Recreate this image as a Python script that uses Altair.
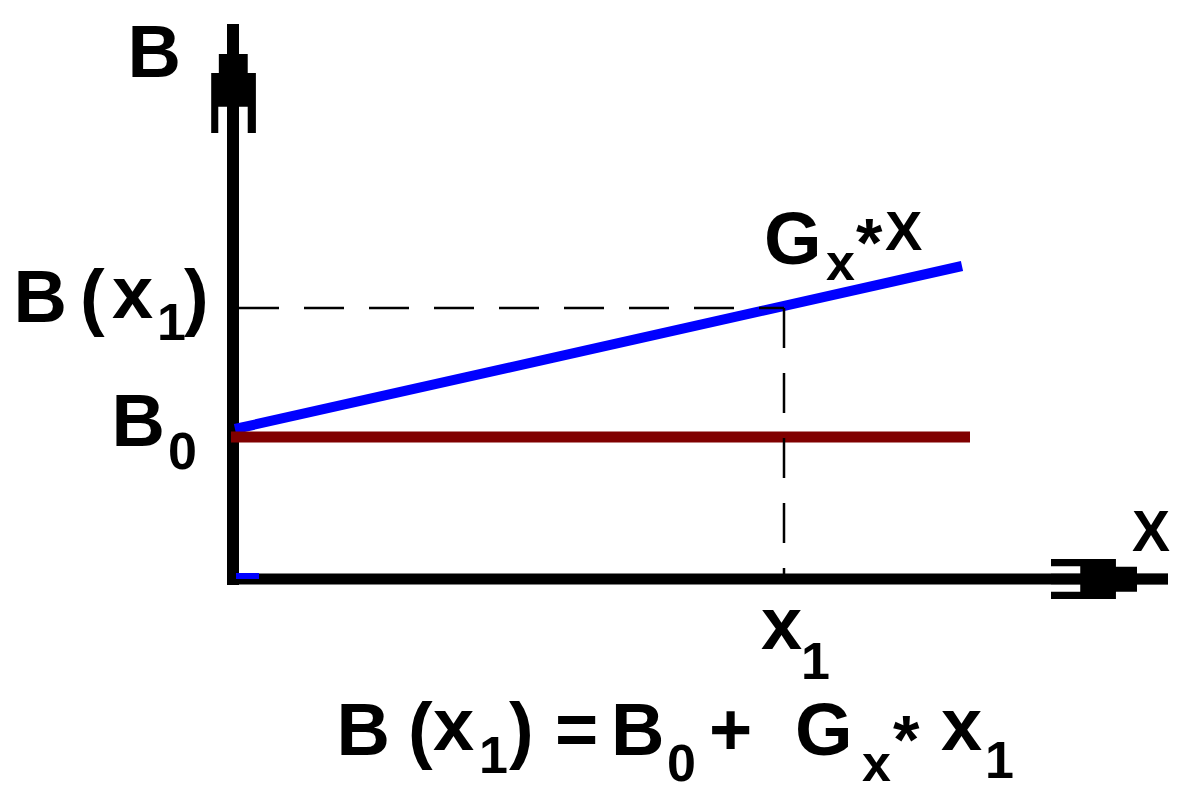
import altair as alt
import pandas as pd

# ---- coordinate frame (1 unit ~ 100 px); origin at the axes corner ----
X_DOMAIN = [-2.25, 9.43]
Y_DOMAIN = [-2.12, 5.71]

axis_x_end = 9.35      # x-axis tip
axis_y_end = 5.55      # y-axis tip

# ---- the quantities shown ----
B0 = 1.42                    # constant field level
x1 = 5.51                    # chosen position
B_x1 = 2.71                  # field at x1
growth_x = [0.02, 7.29]      # blue line G_x * x
growth_y = [1.50, 3.13]
base_x = [-0.02, 7.37]       # dark red line B0
origin_mark_x = [0.03, 0.26]
origin_mark_y = 0.03

# ---- text pieces (main glyphs + subscripts) ----
label_text = ["B",
              "B", "(", "x", "1", ")",
              "B", "0",
              "G", "x", "*", "X",
              "X",
              "x", "1",
              "B", "(", "x", "1", ")", "=", "B", "0", "+", "G", "x", "*", "x", "1"]
label_x = [-1.054,
           -2.194, -1.53, -1.21, -0.76, -0.49,
           -1.214, -0.65,
           5.31, 5.93, 6.23, 6.52,
           8.99,
           5.28, 5.68,
           1.036, 1.75, 2.00, 2.46, 2.76, 3.22, 3.78, 4.34, 4.76, 5.62, 6.29, 6.60, 7.08, 7.52]
label_y = [5.02,
           2.57, 2.57, 2.61, 2.39, 2.57,
           1.33, 1.10,
           3.15, 2.99, 3.13, 3.29,
           0.28,
           -0.70, -1.00,
           -1.76, -1.76, -1.71, -1.94, -1.76, -1.76, -1.76, -2.02, -1.76, -1.76, -2.02, -1.84, -1.71, -1.99]
label_size = [74,
              74, 74, 74, 52, 74,
              74, 52,
              74, 52, 68, 56,
              57,
              74, 52,
              74, 74, 74, 52, 74, 74, 74, 52, 74, 74, 52, 68, 74, 52]

# blocky arrowhead outlines (unit square, SVG y down)
ARROW_UP = ("M -0.11 -1 L 0.11 -1 L 0.11 -0.45 L 0.27 -0.45 L 0.27 -0.1 L 0.42 -0.1 "
            "L 0.42 1 L 0.27 1 L 0.27 0.52 L 0.11 0.52 L 0.11 1 L -0.11 1 L -0.11 0.52 "
            "L -0.27 0.52 L -0.27 1 L -0.4 1 L -0.4 -0.1 L -0.26 -0.1 L -0.26 -0.45 "
            "L -0.11 -0.45 Z")
ARROW_RIGHT = ("M -1 -0.34 L 0.11 -0.34 L 0.11 -0.21 L 0.47 -0.21 L 0.47 -0.09 L 1 -0.09 "
               "L 1 0.09 L 0.47 0.09 L 0.47 0.22 L 0.11 0.22 L 0.11 0.34 L -1 0.34 "
               "L -1 0.22 L -0.5 0.22 L -0.5 0.09 L -1 0.09 L -1 -0.09 L -0.5 -0.09 "
               "L -0.5 -0.22 L -1 -0.22 Z")
Y_ARROW_HALF = 0.545
X_ARROW_HALF = 0.585

xs = alt.Scale(domain=X_DOMAIN, nice=False, zero=False)
ys = alt.Scale(domain=Y_DOMAIN, nice=False, zero=False)

def X(f="x"):
    return alt.X(f"{f}:Q", scale=xs, axis=None)

def Y(f="y"):
    return alt.Y(f"{f}:Q", scale=ys, axis=None)

# axes
yaxis = alt.Chart(pd.DataFrame({"x": [0.0], "y": [-0.06], "y2": [axis_y_end]})).mark_rule(
    color="black", strokeWidth=12, strokeCap="butt"
).encode(x=X(), y=Y(), y2="y2:Q")
xaxis = alt.Chart(pd.DataFrame({"x": [-0.06], "x2": [axis_x_end], "y": [0.0]})).mark_rule(
    color="black", strokeWidth=11, strokeCap="butt"
).encode(x=X(), x2="x2:Q", y=Y())

up_arrow = alt.Chart(pd.DataFrame({"x": [0.0], "y": [axis_y_end - Y_ARROW_HALF]})).mark_point(
    shape=ARROW_UP, filled=True, size=109 ** 2, color="black", opacity=1, strokeWidth=0
).encode(x=X(), y=Y())
right_arrow = alt.Chart(pd.DataFrame({"x": [axis_x_end - X_ARROW_HALF], "y": [0.0]})).mark_point(
    shape=ARROW_RIGHT, filled=True, size=117 ** 2, color="black", opacity=1, strokeWidth=0
).encode(x=X(), y=Y())

# lines
growth = alt.Chart(pd.DataFrame({"x": growth_x, "y": growth_y})).mark_line(
    color="#0000FF", strokeWidth=10, strokeCap="butt"
).encode(x=X(), y=Y())
origin_mark = alt.Chart(pd.DataFrame({"x": [origin_mark_x[0]], "x2": [origin_mark_x[1]],
                                      "y": [origin_mark_y]})).mark_rule(
    color="#0000FF", strokeWidth=6, strokeCap="butt"
).encode(x=X(), x2="x2:Q", y=Y())
base = alt.Chart(pd.DataFrame({"x": [base_x[0]], "x2": [base_x[1]], "y": [B0]})).mark_rule(
    color="#800000", strokeWidth=11, strokeCap="butt"
).encode(x=X(), x2="x2:Q", y=Y())

dash_h = alt.Chart(pd.DataFrame({"x": [0.06], "x2": [x1], "y": [B_x1]})).mark_rule(
    color="black", strokeWidth=2.5, strokeDash=[40, 25], strokeCap="butt"
).encode(x=X(), x2="x2:Q", y=Y())
dash_v = alt.Chart(pd.DataFrame({"x": [x1], "y": [B_x1], "y2": [0.05]})).mark_rule(
    color="black", strokeWidth=2.5, strokeDash=[40, 25], strokeCap="butt"
).encode(x=X(), y=Y(), y2="y2:Q")

labels = alt.Chart(pd.DataFrame({"t": label_text, "x": label_x, "y": label_y,
                                 "s": label_size})).mark_text(
    align="left", baseline="alphabetic", font="Liberation Sans", fontWeight="bold",
    color="black"
).encode(x=X(), y=Y(), text="t:N", size=alt.Size("s:Q", scale=None, legend=None))

chart = alt.layer(
    yaxis, xaxis, growth, base, dash_h, dash_v, origin_mark, up_arrow, right_arrow, labels
).properties(
    width=1168, height=783, padding=0,
    autosize=alt.AutoSizeParams(type="none"),
    background="white",
).configure_view(stroke=None)

chart.save("out.html", embed_options={"renderer": "svg", "actions": False})
